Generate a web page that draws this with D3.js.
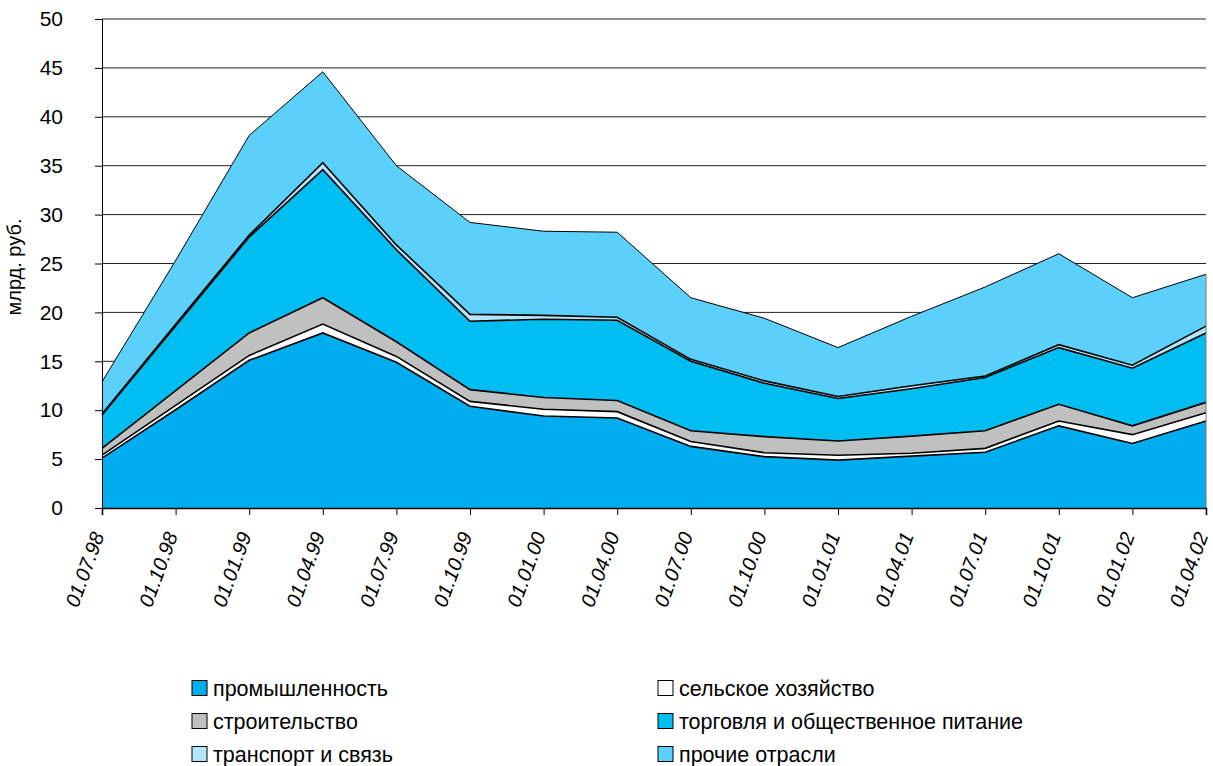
<!DOCTYPE html>
<html><head><meta charset="utf-8">
<script src="https://cdn.jsdelivr.net/npm/d3@7/dist/d3.min.js"></script>
<style>body{margin:0;background:#fff}svg{display:block}text{font-family:"Liberation Sans",Arial,sans-serif;fill:#000}</style>
</head><body><svg id="c" width="1213" height="766"></svg>
<script>
const dates = ["01.07.98","01.10.98","01.01.99","01.04.99","01.07.99","01.10.99","01.01.00","01.04.00","01.07.00","01.10.00","01.01.01","01.04.01","01.07.01","01.10.01","01.01.02","01.04.02"];
const industry = [5.1,10.05,15.1,17.9,14.9,10.4,9.4,9.2,6.3,5.25,4.9,5.3,5.7,8.4,6.6,8.9];
const agriculture = [0.3,0.45,0.5,0.9,0.6,0.5,0.7,0.65,0.5,0.4,0.5,0.3,0.4,0.5,0.9,0.85];
const construction = [0.7,1.5,2.3,2.7,1.5,1.2,1.2,1.15,1.1,1.65,1.45,1.75,1.8,1.7,0.9,1.05];
const trade = [3.4,6.6,9.8,13.1,9.4,7.0,8.0,8.2,7.1,5.45,4.35,4.85,5.45,5.8,5.9,7.1];
const transport = [0.1,0.2,0.2,0.7,0.5,0.7,0.4,0.3,0.2,0.25,0.2,0.3,0.15,0.3,0.3,0.7];
const other = [3.3,6.5,10.2,9.3,8.1,9.4,8.6,8.7,6.3,6.4,5.0,7.1,9.1,9.3,6.9,5.3];
const seriesNames = ["промышленность","сельское хозяйство","строительство","торговля и общественное питание","транспорт и связь","прочие отрасли"];
const seriesColors = ["#00aeef","#ffffff","#c0c0c0","#00bef2","#b4e6fa","#5bd0fa"];
const yTicks = [0,5,10,15,20,25,30,35,40,45,50];
const yLabel = "млрд. руб.";

const seriesVals = [industry, agriculture, construction, trade, transport, other];
const rows = dates.map((d,i)=>{const r={date:d}; seriesNames.forEach((n,k)=>r[n]=seriesVals[k][i]); return r;});
const stack = d3.stack().keys(seriesNames)(rows);

const svg = d3.select("#c");
const L=102, R=1206, T=19, B=508;
const x = d3.scalePoint().domain(dates).range([L,R]);
const y = d3.scaleLinear().domain([0,50]).range([B,T]);

// grid
svg.append("g").selectAll("line").data(yTicks.filter(v=>v>0)).join("line")
  .attr("x1",L).attr("x2",R).attr("y1",d=>y(d)).attr("y2",d=>y(d))
  .attr("stroke","#222").attr("stroke-width",1);

const area = d3.area().x(d=>x(d.data.date)).y0(d=>y(d[0])).y1(d=>y(d[1]));
const line = d3.line().x(d=>x(d.data.date)).y(d=>y(d[1]));
svg.append("g").selectAll("path").data(stack).join("path")
  .attr("d",area).attr("fill",(d,i)=>seriesColors[i]).attr("stroke","none");
svg.append("g").selectAll("path").data(stack).join("path")
  .attr("d",line).attr("fill","none").attr("stroke","#000").attr("stroke-width",(d,i)=>i===5?1:1.6);
// right edge
svg.append("line").attr("x1",R).attr("x2",R).attr("y1",B).attr("y2",y(d3.sum(seriesVals,s=>s[s.length-1])))
  .attr("stroke","#777").attr("stroke-width",1);

// y axis
const ya = svg.append("g").attr("transform",`translate(${L},0)`)
  .call(d3.axisLeft(y).tickValues(yTicks).tickSize(7).tickPadding(32));
ya.select(".domain").attr("stroke","#000");
ya.selectAll("line").attr("stroke","#000");
ya.selectAll("text").attr("font-size","21px").attr("font-family","Liberation Sans, Arial, sans-serif").attr("fill","#000");

// x axis
const xa = svg.append("g").attr("transform",`translate(0,${B})`)
  .call(d3.axisBottom(x).tickSize(7).tickFormat(""));
xa.select(".domain").attr("stroke","#000").attr("stroke-width",1.5);
xa.selectAll("line").attr("stroke","#000");
svg.append("g").selectAll("text").data(dates).join("text")
  .attr("transform",d=>`translate(${x(d)-4},${B+25}) rotate(-70)`)
  .attr("text-anchor","end").attr("dy","0.35em")
  .attr("font-size","20px").attr("font-style","italic").text(d=>d);

svg.append("text").attr("transform",`translate(21,267) rotate(-90)`)
  .attr("text-anchor","middle").attr("font-size","20px").text(yLabel);

// legend
const lg = svg.append("g").selectAll("g").data(seriesNames).join("g")
  .attr("transform",(d,i)=>`translate(${i%2===0?192:658},${688+Math.floor(i/2)*33})`);
lg.append("rect").attr("x",0).attr("y",-7.5).attr("width",15).attr("height",15)
  .attr("fill",(d,i)=>seriesColors[i]).attr("stroke","#000").attr("stroke-width",1);
lg.append("text").attr("x",21).attr("y",0).attr("dy","0.36em").attr("font-size","21.5px").text(d=>d);
</script></body></html>
